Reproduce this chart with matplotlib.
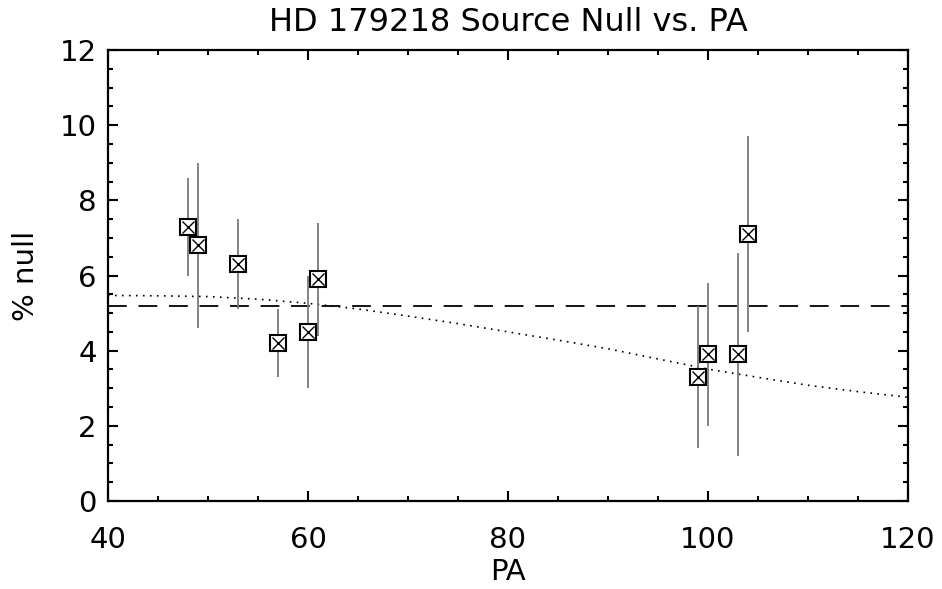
import matplotlib
matplotlib.use('Agg')
import matplotlib.pyplot as plt
from matplotlib.ticker import MultipleLocator

# measured source null vs position angle
pa = [48, 49, 53, 57, 60, 61, 99, 100, 103, 104]
null = [7.3, 6.8, 6.3, 4.2, 4.5, 5.9, 3.3, 3.9, 3.9, 7.1]
err_lo = [6.0, 4.6, 5.1, 3.3, 3.0, 4.4, 1.4, 2.0, 1.2, 4.5]
err_hi = [8.6, 9.0, 7.5, 5.1, 6.0, 7.4, 5.2, 5.8, 6.6, 9.7]

# mean level and model curve
mean_null = 5.2
model_pa = [40, 45, 50, 55, 60, 65, 70, 75, 80, 85, 90, 95, 100, 105, 110, 115, 120]
model_null = [5.47, 5.46, 5.44, 5.37, 5.26, 5.11, 4.92, 4.72, 4.50, 4.28,
              4.05, 3.78, 3.51, 3.29, 3.08, 2.91, 2.76]

plt.rcParams['font.family'] = ['DejaVu Sans']

fig = plt.figure(figsize=(9.42, 5.89), dpi=100)
ax = fig.add_axes([0.1146, 0.1494, 0.8493, 0.7657])

yerr = [[n - lo for n, lo in zip(null, err_lo)], [hi - n for n, hi in zip(null, err_hi)]]
ax.errorbar(pa, null, yerr=yerr, fmt='none', ecolor='#7a7a7a', elinewidth=1.3,
            capsize=0, zorder=2)
ax.plot(pa, null, 's', ms=12, mfc='white', mec='black', mew=1.5, zorder=3)
ax.plot(pa, null, 'x', ms=9, mec='black', mew=1.0, zorder=4)

ax.axhline(mean_null, color='black', lw=1.3, dashes=(10.4, 6.5), zorder=1)
ax.plot(model_pa, model_null, color='black', lw=1.2, dashes=(1, 3.2), zorder=1)

ax.set_xlim(40, 120)
ax.set_ylim(0, 12)
ax.xaxis.set_major_locator(MultipleLocator(20))
ax.xaxis.set_minor_locator(MultipleLocator(5))
ax.yaxis.set_major_locator(MultipleLocator(2))
ax.yaxis.set_minor_locator(MultipleLocator(0.5))
ax.tick_params(which='both', direction='in', top=True, right=True, width=1.5,
               labelsize=21)
ax.tick_params(which='major', length=7.5)
ax.tick_params(which='minor', length=3.7)
ax.tick_params(axis='x', pad=18)
ax.tick_params(axis='y', pad=8)
for s in ax.spines.values():
    s.set_linewidth(1.6)

ax.set_title('HD 179218 Source Null vs. PA', fontsize=23, pad=14)
ax.set_xlabel('PA', fontsize=21, labelpad=3)
ax.set_ylabel('% null', fontsize=21, labelpad=14)

fig.savefig('out.png', dpi=100)
